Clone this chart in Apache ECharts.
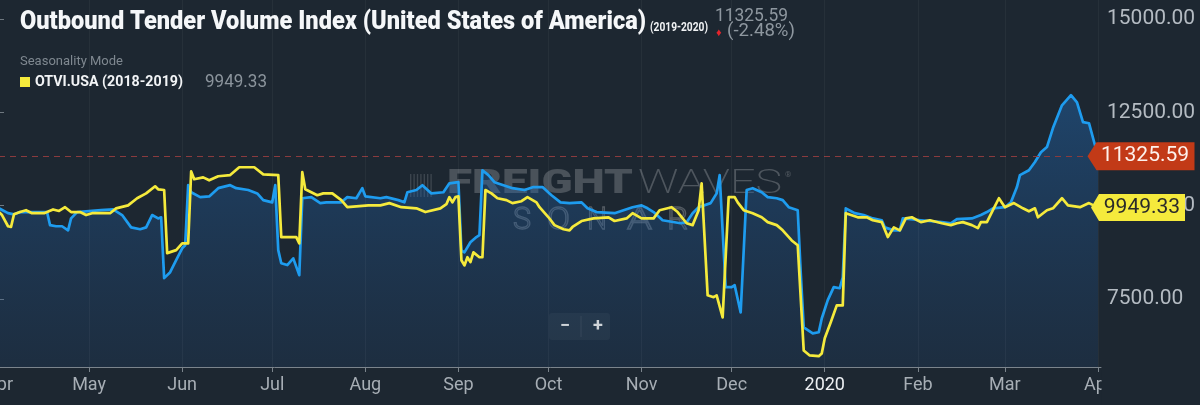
<!DOCTYPE html>
<html><head><meta charset="utf-8">
<script src="https://cdn.jsdelivr.net/npm/echarts@6/dist/echarts.min.js"></script>
<style>html,body{margin:0;padding:0;background:#1d2731;}#c{width:1200px;height:405px;}</style>
</head><body><div id="c"></div>
<script>
// ---------- data ----------
const monthTicks = ['2019-04-01','2019-05-01','2019-06-01','2019-07-01','2019-08-01','2019-09-01','2019-10-01','2019-11-01','2019-12-01','2020-01-01','2020-02-01','2020-03-01','2020-04-01'];
const monthLabels = ['Apr','May','Jun','Jul','Aug','Sep','Oct','Nov','Dec','2020','Feb','Mar','Apr'];
const yTicks = [7500, 10000, 12500, 15000];

// OTVI.USA 2019-2020 (blue)
const blueDates = ['2019-04-01','2019-04-04','2019-04-06','2019-04-08','2019-04-12','2019-04-17','2019-04-18','2019-04-20','2019-04-22','2019-04-24','2019-04-25','2019-04-27','2019-04-30','2019-05-05','2019-05-09','2019-05-12','2019-05-15','2019-05-18','2019-05-20','2019-05-22','2019-05-24','2019-05-25','2019-05-26','2019-05-28','2019-05-30','2019-06-01','2019-06-02','2019-06-03','2019-06-04','2019-06-07','2019-06-10','2019-06-13','2019-06-17','2019-06-19','2019-06-23','2019-06-26','2019-06-28','2019-07-01','2019-07-02','2019-07-03','2019-07-04','2019-07-06','2019-07-08','2019-07-10','2019-07-11','2019-07-14','2019-07-17','2019-07-19','2019-07-24','2019-07-26','2019-07-29','2019-07-31','2019-08-01','2019-08-06','2019-08-08','2019-08-12','2019-08-14','2019-08-15','2019-08-18','2019-08-20','2019-08-23','2019-08-27','2019-08-29','2019-09-01','2019-09-02','2019-09-03','2019-09-05','2019-09-07','2019-09-08','2019-09-09','2019-09-11','2019-09-13','2019-09-16','2019-09-19','2019-09-23','2019-09-26','2019-09-29','2019-10-02','2019-10-05','2019-10-08','2019-10-12','2019-10-14','2019-10-17','2019-10-23','2019-10-26','2019-10-29','2019-11-01','2019-11-03','2019-11-05','2019-11-08','2019-11-14','2019-11-16','2019-11-18','2019-11-20','2019-11-24','2019-11-26','2019-11-27','2019-11-29','2019-12-01','2019-12-02','2019-12-04','2019-12-06','2019-12-08','2019-12-11','2019-12-13','2019-12-16','2019-12-18','2019-12-20','2019-12-23','2019-12-24','2019-12-25','2019-12-28','2019-12-30','2019-12-31','2020-01-02','2020-01-04','2020-01-06','2020-01-07','2020-01-08','2020-01-11','2020-01-14','2020-01-17','2020-01-20','2020-01-21','2020-01-24','2020-01-26','2020-01-27','2020-02-02','2020-02-09','2020-02-12','2020-02-14','2020-02-19','2020-02-22','2020-02-24','2020-02-26','2020-03-01','2020-03-03','2020-03-05','2020-03-06','2020-03-09','2020-03-11','2020-03-13','2020-03-15','2020-03-17','2020-03-20','2020-03-23','2020-03-25','2020-03-27','2020-03-29','2020-03-31','2020-04-01'];
const blueValues = [9930,9800,9770,9830,9830,9830,9480,9450,9450,9340,9660,9830,9850,9880,9900,9750,9420,9370,9420,9750,9660,9690,8060,8220,8540,8860,8940,10550,10360,10230,10250,10470,10550,10470,10420,10330,10150,10090,10550,8810,8460,8410,8590,8140,10200,10230,10070,10090,10090,10230,10200,10470,10250,10200,10230,10150,10090,10360,10420,10550,10330,10360,10600,10630,8800,8750,9020,9160,9210,10950,10820,10630,10550,10470,10420,10500,10500,10280,10090,10070,10090,9930,9830,9800,9880,9960,10010,9930,9830,9610,9530,9560,9800,9960,10070,10330,10820,7820,7820,7870,7140,10420,10470,10360,10230,10200,10150,9960,9880,8200,6740,6580,6610,6980,7470,7820,7790,8080,9930,9800,9750,9660,9610,9420,9340,9340,9660,9610,9560,9530,9640,9660,9750,9830,9930,9960,10090,10500,10820,10950,11170,11430,11570,12080,12690,12960,12770,12240,12210,11620,11325.59];

// OTVI.USA 2018-2019 (yellow, seasonality overlay)
const yellowDates = ['2019-04-01','2019-04-02','2019-04-04','2019-04-05','2019-04-06','2019-04-08','2019-04-10','2019-04-12','2019-04-16','2019-04-19','2019-04-21','2019-04-23','2019-04-25','2019-04-28','2019-04-30','2019-05-02','2019-05-08','2019-05-10','2019-05-14','2019-05-17','2019-05-20','2019-05-23','2019-05-24','2019-05-26','2019-05-27','2019-05-30','2019-06-01','2019-06-03','2019-06-04','2019-06-05','2019-06-08','2019-06-10','2019-06-13','2019-06-17','2019-06-20','2019-06-25','2019-06-28','2019-07-03','2019-07-04','2019-07-09','2019-07-10','2019-07-11','2019-07-12','2019-07-16','2019-07-18','2019-07-21','2019-07-24','2019-07-26','2019-08-02','2019-08-06','2019-08-09','2019-08-13','2019-08-18','2019-08-21','2019-08-26','2019-08-28','2019-08-29','2019-08-30','2019-08-31','2019-09-01','2019-09-02','2019-09-03','2019-09-04','2019-09-05','2019-09-06','2019-09-08','2019-09-09','2019-09-10','2019-09-12','2019-09-14','2019-09-17','2019-09-19','2019-09-22','2019-09-24','2019-09-27','2019-09-28','2019-10-01','2019-10-03','2019-10-06','2019-10-08','2019-10-09','2019-10-12','2019-10-16','2019-10-21','2019-10-23','2019-10-27','2019-10-29','2019-11-01','2019-11-05','2019-11-07','2019-11-11','2019-11-13','2019-11-16','2019-11-18','2019-11-20','2019-11-21','2019-11-23','2019-11-25','2019-11-26','2019-11-28','2019-11-30','2019-12-02','2019-12-03','2019-12-05','2019-12-08','2019-12-11','2019-12-13','2019-12-16','2019-12-18','2019-12-21','2019-12-23','2019-12-25','2019-12-27','2019-12-30','2019-12-31','2020-01-01','2020-01-03','2020-01-05','2020-01-07','2020-01-08','2020-01-12','2020-01-15','2020-01-17','2020-01-20','2020-01-22','2020-01-24','2020-01-26','2020-01-28','2020-01-30','2020-02-02','2020-02-05','2020-02-09','2020-02-12','2020-02-14','2020-02-16','2020-02-19','2020-02-21','2020-02-22','2020-02-24','2020-02-26','2020-02-28','2020-03-01','2020-03-04','2020-03-07','2020-03-09','2020-03-11','2020-03-12','2020-03-15','2020-03-17','2020-03-20','2020-03-22','2020-03-26','2020-03-29','2020-04-01'];
const yellowValues = [9830,9750,9450,9430,9770,9830,9880,9800,9800,9900,9860,9960,9830,9830,9750,9800,9800,9930,10010,10200,10330,10520,10440,10420,8730,8810,8990,8990,10920,10710,10760,10680,10790,10820,11030,11030,10840,10820,9160,9160,8990,10900,10440,10280,10330,10330,10150,9960,10010,10010,10070,9960,9930,9830,9930,10040,10230,10090,10230,10250,8540,8400,8620,8490,8750,8620,8620,10420,10330,10200,10150,10070,10120,10230,10090,9960,9690,9480,9370,9340,9430,9590,9660,9690,9590,9660,9800,9660,9660,9880,9960,9830,9530,9480,9880,10600,7600,7550,7600,7010,10230,10230,10090,9880,9800,9690,9560,9480,9340,9070,8940,6120,5990,5970,6040,6450,6880,7330,7330,9800,9690,9690,9610,9560,9160,9420,9340,9660,9690,9560,9610,9530,9480,9530,9560,9480,9400,9560,9560,9880,10200,9960,10070,9930,9850,9930,9690,9880,9930,10200,10010,9960,10070,9949.33];

// ---------- helpers ----------
const T0 = Date.parse('2019-04-01');
const dayOf = s => Math.round((Date.parse(s) - T0) / 86400000);
const tickDays = monthTicks.map(dayOf);
const blueData = blueDates.map((d, i) => [dayOf(d), blueValues[i]]);
const yellowData = yellowDates.map((d, i) => [dayOf(d), yellowValues[i]]);
const blueLast = blueData[blueData.length - 1];
const yellowLast = yellowData[yellowData.length - 1];

const ctx = document.createElement('canvas').getContext('2d');
function fit(text, font, target) { ctx.font = font; const w = ctx.measureText(text).width; return w > 0 ? target / w : 1; }
function txt(text, x, y, font, fill, target, extra) {
  const o = { type: 'text', x: x, y: y, z: 50, silent: true,
    scaleX: target ? fit(text, font, target) : 1,
    style: { text: text, font: font, fill: fill, verticalAlign: 'middle', align: 'left' } };
  if (extra && extra.style) { Object.assign(o.style, extra.style); delete extra.style; }
  return Object.assign(o, extra || {});
}

const BG = '#1d2731';
const FT = 'Roboto';
const sonar = (ch, x, w) => txt(ch, x, 221, '300 31px ' + FT, 'none', w, { z: 1, style: { stroke: 'rgba(255,255,255,0.24)', lineWidth: 1.3 } });

const graphics = [
  txt('Outbound Tender Volume Index (United States of America)', 20, 23, '900 25px ' + FT, '#f5f7f9', 626),
  txt('(2019-2020)', 650, 28, 'bold 12px ' + FT, '#f0f2f4', 58),
  txt('11325.59', 715, 16, '18px ' + FT, '#8e979f', 73),
  txt('\u2666', 716, 33, '11px ' + FT, '#e3242b', 0),
  txt('(-2.48%)', 727, 31.5, '18px ' + FT, '#8e979f', 68),
  txt('Seasonality Mode', 20, 62, '13px ' + FT, '#7f8890', 103),
  { type: 'rect', z: 50, silent: true, shape: { x: 20, y: 77, width: 10, height: 10 }, style: { fill: '#f5ea3c' } },
  txt('OTVI.USA (2018-2019)', 35, 82.5, 'bold 15px ' + FT, '#f2f4f6', 148),
  txt('9949.33', 205, 82.5, '18px ' + FT, '#8b949c', 62),
  // watermark (under the series)
  txt('FREIGHT', 447, 185, '900 33px ' + FT, 'rgba(255,255,255,0.2)', 186, { z: 1 }),
  txt('WAVES', 638, 185, '200 33px ' + FT, 'rgba(255,255,255,0.22)', 144, { z: 1 }),
  txt('\u00ae', 785, 175, '8px ' + FT, 'rgba(255,255,255,0.22)', 0, { z: 1 }),
  sonar('S', 513, 18), sonar('O', 547, 23), sonar('N', 587, 20), sonar('A', 627, 25), sonar('R', 667, 21),
  // zoom buttons
  { type: 'rect', z: 50, silent: true, shape: { x: 549, y: 313, width: 61, height: 27, r: 3 }, style: { fill: 'rgba(255,255,255,0.04)' } },
  { type: 'line', z: 50, silent: true, shape: { x1: 581, y1: 316, x2: 581, y2: 337 }, style: { stroke: 'rgba(255,255,255,0.08)', lineWidth: 1 } },
  { type: 'text', z: 51, silent: true, x: 565, y: 326, style: { text: '\u2212', font: 'bold 18px ' + FT, fill: '#cfd4d9', align: 'center', verticalAlign: 'middle' } },
  { type: 'text', z: 51, silent: true, x: 598, y: 326, style: { text: '+', font: 'bold 18px ' + FT, fill: '#cfd4d9', align: 'center', verticalAlign: 'middle' } },
  // right-hand panel clipping of the last x label
  { type: 'rect', z: 60, silent: true, shape: { x: 1101.5, y: 370, width: 100, height: 35 }, style: { fill: BG } }
];
for (let i = 0; i < 7; i++) {
  graphics.push({ type: 'rect', z: 1, silent: true, shape: { x: 410 + i * 3.4, y: 174, width: 1.4, height: 23 }, style: { fill: 'rgba(255,255,255,0.14)' } });
}

const chart = echarts.init(document.getElementById('c'), null, { renderer: 'canvas' });
chart.setOption({
  backgroundColor: BG,
  animation: false,
  textStyle: { fontFamily: FT },
  grid: { left: -1, right: 99, top: 0, bottom: 38, containLabel: false, outerBoundsMode: 'none' },
  xAxis: {
    type: 'value', min: 0, max: 367,
    axisLine: { show: true, lineStyle: { color: '#7b848c', width: 1 } },
    axisTick: { show: true, customValues: tickDays, length: 5, lineStyle: { color: '#7b848c' } },
    axisLabel: {
      customValues: tickDays, color: '#a7aeb5', fontSize: 18, margin: 9, fontFamily: FT,
      formatter: v => { const i = tickDays.indexOf(Math.round(v)); const l = i >= 0 ? monthLabels[i] : ''; return l === '2020' ? '{yr|2020}' : l; },
      rich: { yr: { color: '#eef1f4', fontSize: 18, fontFamily: FT } }
    },
    splitLine: { show: false }
  },
  yAxis: {
    type: 'value', position: 'right', min: 5680, max: 15510,
    axisLine: { show: true, lineStyle: { color: '#6f7880', width: 1 } },
    axisTick: { show: true, customValues: yTicks, length: 5, lineStyle: { color: '#6f7880' } },
    axisLabel: { customValues: yTicks, formatter: v => Number(v).toFixed(2), color: '#b4bbc2', fontSize: 21, margin: 6, fontFamily: FT },
    splitLine: { show: false }
  },
  graphic: { elements: graphics },
  series: [
    {
      type: 'line', name: 'OTVI.USA (2019-2020)', data: blueData, symbol: 'none', showSymbol: false, z: 2,
      lineStyle: { color: '#1e9cef', width: 2.7, join: 'round' },
      itemStyle: { color: '#1e9cef' },
      areaStyle: { origin: 'start', color: { type: 'linear', x: 0, y: 0, x2: 0, y2: 1, colorStops: [
        { offset: 0, color: 'rgba(34,112,192,0.58)' },
        { offset: 0.4, color: 'rgba(32,98,170,0.45)' },
        { offset: 1, color: 'rgba(30,80,140,0.24)' }] } },
      markLine: { silent: true, symbol: 'none', label: { show: false },
        lineStyle: { color: '#8a3b3e', type: [6, 5], width: 1 },
        data: [{ yAxis: blueLast[1] }] },
      markPoint: { silent: true,
        symbol: 'path://M0,14L9,0L107,0L107,28L9,28Z', symbolSize: [107, 28], symbolKeepAspect: false, symbolOffset: [43, 0],
        itemStyle: { color: '#c23a17' },
        label: { show: true, position: 'inside', formatter: p => Number(p.value).toFixed(2), color: '#fdf1ec', fontSize: 21, fontFamily: FT, offset: [4, 0] },
        data: [{ coord: blueLast, value: blueLast[1] }] }
    },
    {
      type: 'line', name: 'OTVI.USA (2018-2019)', data: yellowData, symbol: 'none', showSymbol: false, z: 3,
      lineStyle: { color: '#f5ea3c', width: 2.7, join: 'round' },
      itemStyle: { color: '#f5ea3c' },
      markLine: { silent: true, symbol: 'none', label: { show: false },
        lineStyle: { color: 'rgba(255,255,255,0.045)', type: 'solid', width: 1 },
        data: tickDays.map(d => ({ xAxis: d })) },
      markPoint: { silent: true,
        symbol: 'path://M0,13.5L8,0L94,0L94,27L8,27Z', symbolSize: [94, 27], symbolKeepAspect: false, symbolOffset: [40, 0],
        itemStyle: { color: '#f5ea3c' },
        label: { show: true, position: 'inside', formatter: p => Number(p.value).toFixed(2), color: '#2a2a2a', fontSize: 21, fontFamily: FT, offset: [4, 0] },
        data: [{ coord: yellowLast, value: yellowLast[1] }] }
    }
  ]
});
</script>
</body></html>
